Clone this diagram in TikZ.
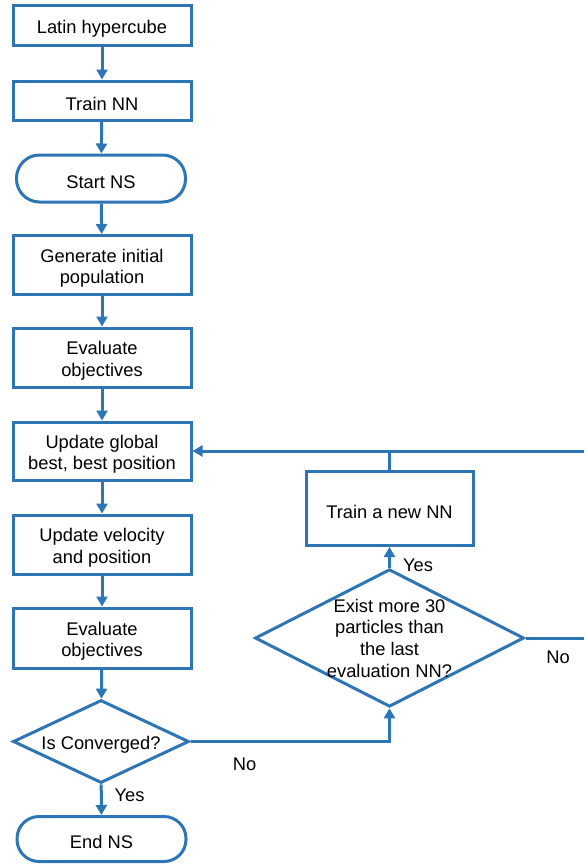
\documentclass[tikz,border=0pt]{standalone}
\usepackage{fontspec}
\setmainfont{Liberation Sans}
\usetikzlibrary{shapes.geometric,arrows.meta}
\definecolor{fb}{RGB}{46,117,182}
\newcommand\fstrut{\rule{0pt}{19.5pt}}
\begin{document}
\begin{tikzpicture}[x=1pt,y=-1pt,
  txt/.style={font=\fontsize{18.3}{21.7}\selectfont, align=center, text=black, inner sep=0pt},
  box/.style={txt, draw=fb, line width=3pt, fill=white, minimum width=178pt, minimum height=59pt},
  term/.style={txt, draw=fb, line width=3pt, fill=white, minimum width=169pt, rounded corners=23pt},
  decision/.style={draw=fb, line width=3pt, fill=white, diamond, inner sep=0pt},
  link/.style={draw=fb, line width=3pt},
  arr/.style={link, -{Triangle[width=11pt,length=10pt]}}
]
\useasboundingbox (0,0) rectangle (584,865);

\node[box, minimum height=39.5pt] (n1) at (102,25.5) {\fstrut Latin hypercube};
\node[box, minimum height=39pt] (n2) at (102,100.5) {\fstrut Train NN};
\node[term, minimum height=47pt] (n3) at (101,178.5) {\fstrut Start NS};
\node[box] (n4) at (102,265) {\fstrut Generate initial\\population};
\node[box] (n5) at (102,357.5) {\fstrut Evaluate\\objectives};
\node[box, minimum height=58pt] (n6) at (102,451) {\fstrut Update global\\best, best position};
\node[box] (n7) at (102,544.5) {\fstrut Update velocity\\and position};
\node[box, minimum height=60pt] (n8) at (102,638) {\fstrut Evaluate\\objectives};
\node[decision, minimum width=176pt, minimum height=83pt] (n9) at (101,741.5) {};
\node[txt] (t9) at (n9.center) {\fstrut Is Converged?};
\node[term, minimum height=45pt, rounded corners=22pt] (n10) at (101.5,839) {\fstrut End NS};

\node[box, minimum width=167pt, minimum height=74pt] (n11) at (389.5,508.5) {\fstrut Train a new NN};
\node[decision, minimum width=269pt, minimum height=137.6pt] (n12) at (389.5,638) {};
\node[txt] (t12) at (n12.center) {Exist more 30\\particles than\\the last\\evaluation NN?};

\coordinate (r1) at (584,451);
\coordinate (r2) at (584,638);

\draw[arr] (n1) -- (n2);
\draw[arr] (n2) -- (n3);
\draw[arr] (n3) -- (n4);
\draw[arr] (n4) -- (n5);
\draw[arr] (n5) -- (n6);
\draw[arr] (n6) -- (n7);
\draw[arr] (n7) -- (n8);
\draw[arr] (n8) -- (n9);
\draw[arr] (n9) -- (n10);
\draw[arr] (n9.east) -- (n12.south |- n9.east) -- (n12.south);
\draw[arr] (n12.north) -- (n11.south);
\draw[link] (n12.east) -- (r2);
\draw[link] (n11.north) -- (n11.north |- r1);
\draw[arr] (r1) -- (n6.east);

\node[txt] (ly1) at (129.5,795.5) {Yes};
\node[txt] (ln1) at (244.5,764) {No};
\node[txt] (ly2) at (418,565) {Yes};
\node[txt] (ln2) at (558,657) {No};
\end{tikzpicture}
\end{document}
